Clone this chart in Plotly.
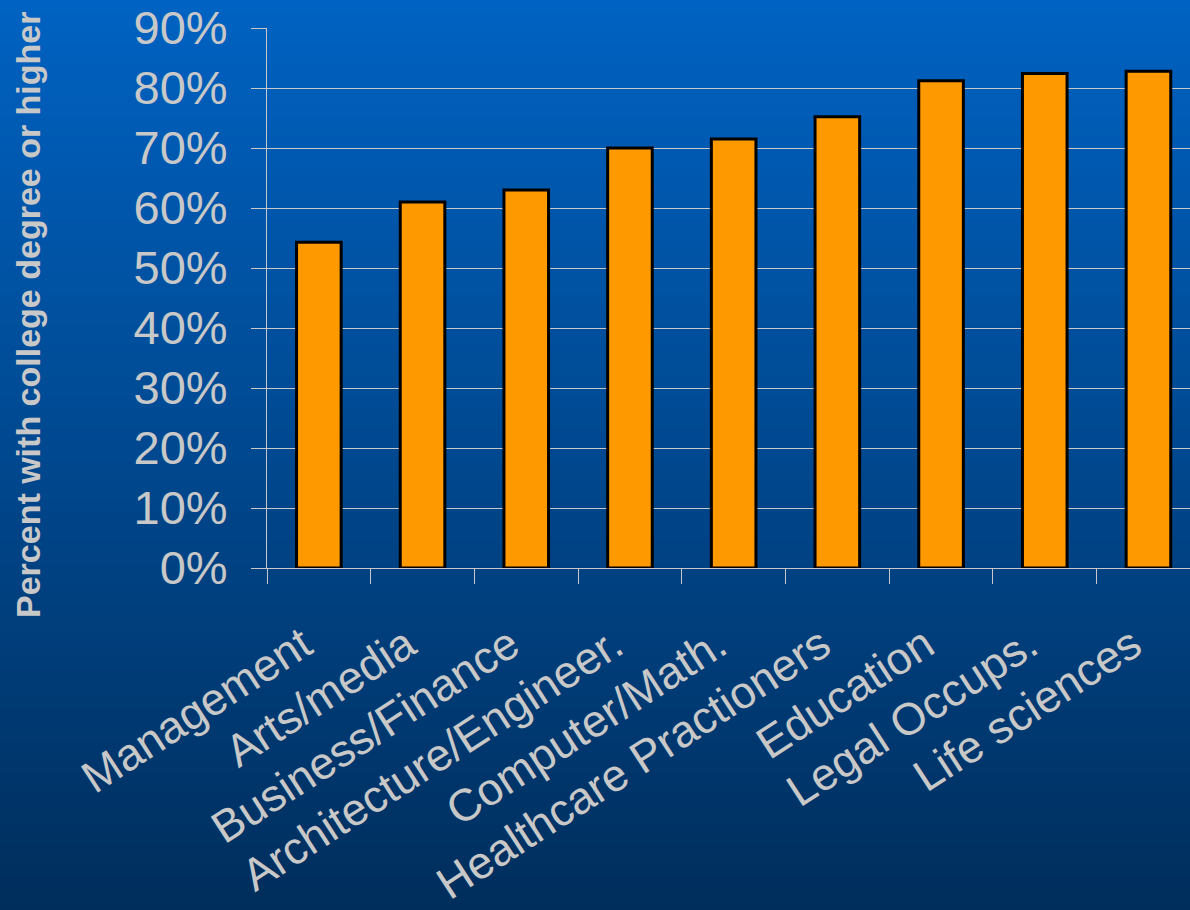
import plotly.graph_objects as go

# Occupations and share of workers holding a college degree or higher
occupations = [
    "Management",
    "Arts/media",
    "Business/Finance",
    "Architecture/Engineer.",
    "Computer/Math.",
    "Healthcare Practioners",
    "Education",
    "Legal Occups.",
    "Life sciences",
]
pct_college = [0.543, 0.610, 0.630, 0.700, 0.715, 0.752, 0.812, 0.824, 0.828]
y_ticks = [0.0, 0.1, 0.2, 0.3, 0.4, 0.5, 0.6, 0.7, 0.8, 0.9]
y_title = "Percent with college degree or higher"

W, H = 1190, 910
M_L, M_R, M_T, M_B = 267, 0, 28, 342
PLOT_H = H - M_T - M_B
PLOT_W = W - M_L - M_R

GRAY = "#c8c8c8"
FONT = "Liberation Sans, Arial, sans-serif"

fig = go.Figure(
    go.Bar(
        x=occupations,
        y=pct_college,
        marker=dict(color="#ff9900", line=dict(color="#000000", width=3)),
        width=0.43,
    )
)

# Vertical background gradient drawn as thin horizontal bands
top_rgb = (0, 98, 194)
bot_rgb = (0, 46, 92)
n_bands = 140
for i in range(n_bands):
    t = i / (n_bands - 1)
    r = round(top_rgb[0] + (bot_rgb[0] - top_rgb[0]) * t)
    g = round(top_rgb[1] + (bot_rgb[1] - top_rgb[1]) * t)
    b = round(top_rgb[2] + (bot_rgb[2] - top_rgb[2]) * t)
    py0 = H * i / n_bands
    py1 = H * (i + 1) / n_bands + 1
    fig.add_shape(
        type="rect",
        xref="paper", yref="paper",
        x0=-M_L / PLOT_W, x1=1.0 + 0.01,
        y0=(H - M_B - py1) / PLOT_H, y1=(H - M_B - py0) / PLOT_H,
        fillcolor=f"rgb({r},{g},{b})",
        line=dict(width=0),
        layer="below",
    )

# Rotated axis title
fig.add_annotation(
    text=y_title,
    xref="paper", yref="paper",
    x=(28 - M_L) / PLOT_W,
    y=(H - M_B - 315) / PLOT_H,
    textangle=-90,
    showarrow=False,
    xanchor="center", yanchor="middle",
    font=dict(family=FONT, size=34, color=GRAY, weight="bold"),
)

fig.update_layout(
    width=W, height=H,
    margin=dict(l=M_L, r=M_R, t=M_T, b=M_B, pad=0),
    paper_bgcolor="rgb(0,72,143)",
    plot_bgcolor="rgba(0,0,0,0)",
    showlegend=False,
    xaxis=dict(
        type="category",
        range=[-0.5, -0.5 + PLOT_W / 103.7],
        tickangle=-33,
        ticks="outside",
        tickson="boundaries",
        ticklen=15,
        tickcolor=GRAY,
        tickwidth=1,
        showline=True,
        linecolor=GRAY,
        linewidth=1,
        showgrid=False,
        ticklabelstandoff=32,
        ticklabelshift=-16,
        tickfont=dict(family=FONT, size=45, color=GRAY),
    ),
    yaxis=dict(
        range=[0, 0.9],
        tickmode="array",
        tickvals=y_ticks,
        tickformat=".0%",
        ticks="outside",
        ticklen=15,
        tickcolor=GRAY,
        tickwidth=1,
        showline=True,
        linecolor=GRAY,
        linewidth=1,
        showgrid=True,
        gridcolor=GRAY,
        gridwidth=1,
        zeroline=False,
        ticklabelstandoff=14,
        tickfont=dict(family=FONT, size=47, color=GRAY),
    ),
)

fig.write_html("out.html")
